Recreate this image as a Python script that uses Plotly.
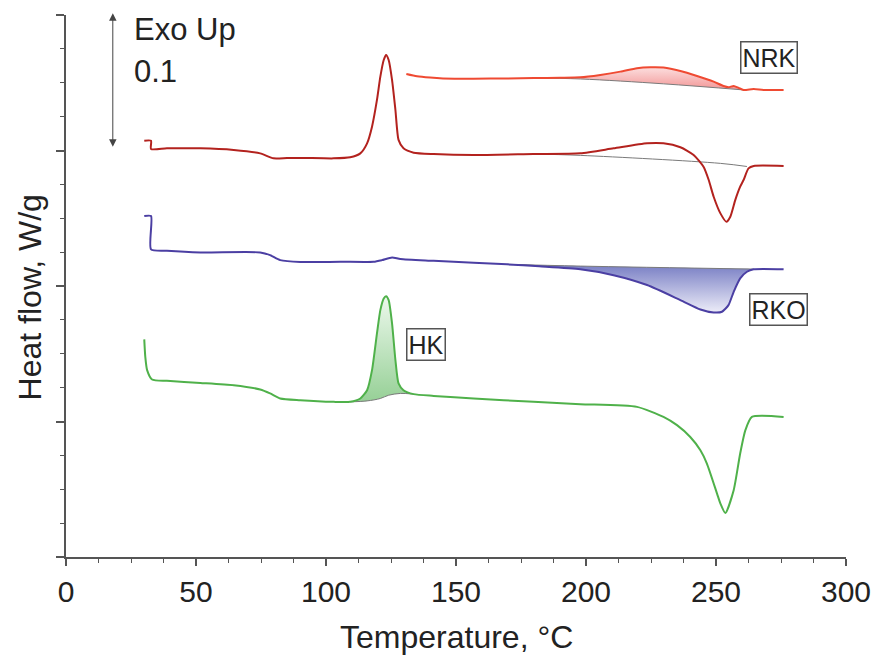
import plotly.graph_objects as go

# ---------------- data ----------------
# NRK (top, bright red)
T_nrk = [130.9, 135, 140, 145, 156.7, 170, 180, 190, 197.8, 205.5, 213.2, 219.6, 224.7, 229.8,
         236.3, 242.7, 249.1, 252.9, 254.8, 256.8, 258.7, 260.6, 264.5, 268.3, 276]
hf_nrk = [0.3565, 0.3548, 0.3538, 0.3532, 0.3530, 0.3532, 0.3535, 0.3537, 0.3540, 0.3558, 0.3582,
          0.3607, 0.3614, 0.3612, 0.3587, 0.3550, 0.3508, 0.3476, 0.3467, 0.3476, 0.3462, 0.3447,
          0.3454, 0.3447, 0.3447]
base_nrk_T = [180, 197.8, 229.8, 260.6]
base_nrk_hf = [0.3535, 0.3528, 0.3492, 0.3447]

# second curve (dark red)
T_red = [30.1, 32.7, 32.7, 38.8, 51.7, 64.5, 74.7, 79.8, 85, 90.1, 102.9, 109.3, 113.2, 115.8,
         117.7, 119.6, 120.9, 122.2, 123.1, 124.1, 125.4, 126.7, 127.9, 129.8, 133.7, 141.4, 156.8,
         179.8, 197.8, 210.6, 223.5, 229.8, 236.3, 241.4, 245.2, 247.2, 249.1, 251.7, 254, 255.5,
         257.4, 259.3, 260.6, 262.5, 264.5, 276]
hf_red = [0.3072, 0.3072, 0.3011, 0.3016, 0.3016, 0.3004, 0.2979, 0.2942, 0.2944, 0.2945, 0.2942,
          0.2950, 0.2979, 0.3053, 0.3176, 0.3373, 0.3545, 0.3668, 0.3705, 0.3668, 0.3521, 0.3299,
          0.3078, 0.3016, 0.2984, 0.2974, 0.2967, 0.2974, 0.2979, 0.3016, 0.3053, 0.3053, 0.3024,
          0.2967, 0.2880, 0.2782, 0.2659, 0.2536, 0.2474, 0.2511, 0.2634, 0.2733, 0.2782, 0.2868,
          0.2886, 0.2886]
base_red_T = [179.8, 197.8, 251.7, 261.9]
base_red_hf = [0.2974, 0.2964, 0.2905, 0.2882]

# RKO (blue)
T_rko = [30.1, 32.7, 32.7, 38.8, 51.7, 74.7, 78.5, 82.4, 90.1, 105.5, 118.3, 121.5, 125.4, 128.6,
         141.4, 156.8, 169.6, 182, 197.8, 210.6, 223.5, 236.3, 244, 249.1, 252.3, 254.8, 256.8,
         259.3, 261.9, 264.5, 276]
hf_rko = [0.2516, 0.2516, 0.2270, 0.2260, 0.2248, 0.2248, 0.2228, 0.2191, 0.2177, 0.2179, 0.2179,
          0.2191, 0.2211, 0.2199, 0.2186, 0.2171, 0.2160, 0.2145, 0.2123, 0.2080, 0.2007, 0.1896,
          0.1827, 0.1805, 0.1810, 0.1859, 0.1957, 0.2056, 0.2105, 0.2123, 0.2123]
base_rko_T = [169.6, 197.8, 264.5]
base_rko_hf = [0.2160, 0.2147, 0.2125]

# HK (green)
T_hk = [30.1, 30.5, 31.2, 33.1, 38.8, 51.7, 64.5, 74.7, 78.5, 82.4, 90.1, 102.9, 109.3, 113.2,
        115.8, 117.7, 119.6, 120.9, 122.2, 123.1, 124.1, 125.4, 126.7, 127.9, 129.8, 133.7, 141.4,
        156.8, 179.8, 197.8, 219.6, 229.8, 235, 240.1, 244, 246.5, 250.4, 251.7, 253.6, 256.8,
        259.3, 261.3, 263.8, 276]
hf_hk = [0.1606, 0.1477, 0.1379, 0.1310, 0.1300, 0.1285, 0.1268, 0.1236, 0.1207, 0.1170, 0.1157,
         0.1145, 0.1145, 0.1170, 0.1231, 0.1379, 0.1650, 0.1822, 0.1908, 0.1925, 0.1896, 0.1724,
         0.1453, 0.1281, 0.1231, 0.1202, 0.1189, 0.1170, 0.1145, 0.1128, 0.1108, 0.1034, 0.0973,
         0.0886, 0.0788, 0.0690, 0.0468, 0.0394, 0.0325, 0.0493, 0.0764, 0.0936, 0.1034, 0.1034]
base_hk_T = [109.3, 115.8, 120.9, 124.1, 128.6, 133.7]
base_hk_hf = [0.1145, 0.1152, 0.1170, 0.1194, 0.1207, 0.1202]

x_ticks = [0, 50, 100, 150, 200, 250, 300]

FONT = "Arial, Liberation Sans, Helvetica, sans-serif"
AX = "#555555"
TXT = "#222222"


def band(T, hf, bT, bhf):
    a, b = bT[0], bT[-1]
    inner = [(t, h) for t, h in zip(T, hf) if a < t < b]
    xs = [a] + [p[0] for p in inner] + [b] + bT[::-1]
    ys = [bhf[0]] + [p[1] for p in inner] + [bhf[-1]] + bhf[::-1]
    return xs, ys


fig = go.Figure()

fills = [
    (T_nrk, hf_nrk, base_nrk_T, base_nrk_hf, [[0, "rgb(242,150,150)"], [1, "rgb(252,222,222)"]]),
    (T_rko, hf_rko, base_rko_T, base_rko_hf, [[0, "rgb(236,236,248)"], [1, "rgb(120,126,196)"]]),
    (T_hk, hf_hk, base_hk_T, base_hk_hf, [[0, "rgb(150,208,150)"], [1, "rgb(236,248,236)"]]),
]
for T, hf, bT, bhf, cs in fills:
    xs, ys = band(T, hf, bT, bhf)
    fig.add_trace(go.Scatter(
        x=xs, y=ys, mode="lines", fill="toself",
        line=dict(width=0, shape="spline", smoothing=0.6),
        fillgradient=dict(type="vertical", colorscale=cs, start=min(ys), stop=max(ys)),
        hoverinfo="skip", showlegend=False))

for bT, bhf in [(base_nrk_T, base_nrk_hf), (base_red_T, base_red_hf),
                (base_rko_T, base_rko_hf), (base_hk_T, base_hk_hf)]:
    fig.add_trace(go.Scatter(x=bT, y=bhf, mode="lines",
                             line=dict(color="#7a7a7a", width=1, shape="spline"),
                             showlegend=False, hoverinfo="skip"))

curves = [
    (T_nrk, hf_nrk, "#ef4a32", "NRK"),
    (T_red, hf_red, "#b3221e", "red"),
    (T_rko, hf_rko, "#4b3fa3", "RKO"),
    (T_hk, hf_hk, "#4fb14a", "HK"),
]
for T, hf, c, name in curves:
    fig.add_trace(go.Scatter(x=T, y=hf, mode="lines", name=name,
                             line=dict(color=c, width=2, shape="spline", smoothing=0.6),
                             showlegend=False))

# Labels
for txt, x, y in [("NRK", 270.5, 0.369), ("RKO", 273.9, 0.1829), ("HK", 138.6, 0.1571)]:
    fig.add_annotation(x=x, y=y, text=txt, showarrow=False,
                       font=dict(family=FONT, size=25, color=TXT),
                       bordercolor="#555555", borderwidth=1.5, borderpad=1, bgcolor="white")

# Exo Up arrow
fig.add_annotation(x=18, y=0.4013, ax=18, ay=0.3016, axref="x", ayref="y", xref="x", yref="y",
                   text="", showarrow=True, arrowhead=2, arrowside="end+start",
                   arrowsize=1.5, arrowwidth=1, arrowcolor="#444444")
fig.add_annotation(x=25.2, y=0.389, text="Exo Up", showarrow=False, xanchor="left",
                   font=dict(family=FONT, size=31, color=TXT))
fig.add_annotation(x=25.2, y=0.358, text="0.1", showarrow=False, xanchor="left",
                   font=dict(family=FONT, size=31, color=TXT))

# Axis titles
fig.add_annotation(xref="paper", yref="paper", x=0.5, y=0, yshift=-80, yanchor="middle",
                   text="Temperature, °C", showarrow=False,
                   font=dict(family=FONT, size=32, color=TXT))
fig.add_annotation(xref="paper", yref="paper", x=0, y=0.479, xshift=-36, xanchor="center",
                   yanchor="middle", textangle=-90, text="Heat flow, W/g", showarrow=False,
                   font=dict(family=FONT, size=32, color=TXT))

fig.update_layout(
    width=889, height=664,
    margin=dict(l=66, r=43, t=15, b=107, autoexpand=False),
    paper_bgcolor="white", plot_bgcolor="white",
    font=dict(family=FONT, color=TXT),
    xaxis=dict(range=[0, 300], tickvals=x_ticks, ticks="outside", ticklen=7, tickwidth=1.5,
               tickcolor=AX, showline=True, linecolor=AX, linewidth=1.5, showgrid=False,
               zeroline=False, tickfont=dict(size=30, color=TXT), automargin=False,
               minor=dict(dtick=12.5, tick0=0, ticks="outside", ticklen=4, tickwidth=1.2,
                          tickcolor=AX)),
    yaxis=dict(range=[0, 0.4], dtick=0.1, tick0=0, ticks="outside", ticklen=8, tickwidth=1.5,
               tickcolor=AX, showline=True, linecolor=AX, linewidth=1.5, showgrid=False,
               zeroline=False, showticklabels=False, automargin=False,
               minor=dict(dtick=0.025, tick0=0, ticks="outside", ticklen=4, tickwidth=1.2,
                          tickcolor=AX)),
)

fig.write_html("out.html", config={"displayModeBar": False},
               post_script="document.body.style.margin='0';document.body.style.overflow='hidden';")
